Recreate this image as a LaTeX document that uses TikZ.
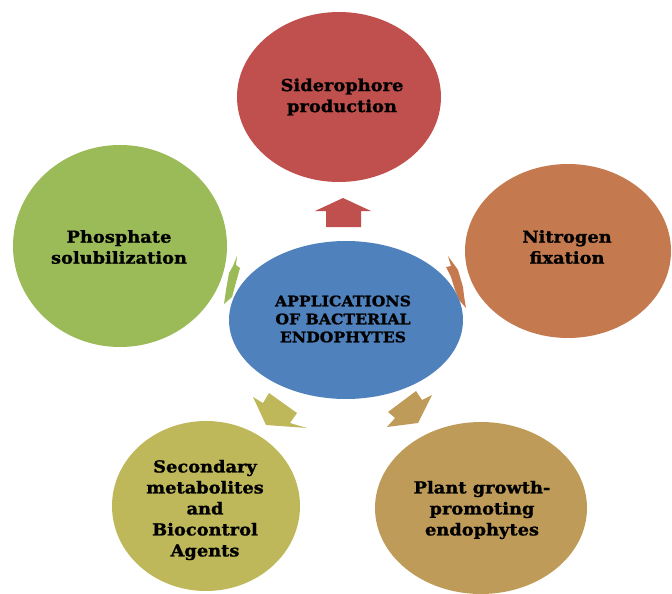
\documentclass[tikz,border=0pt]{standalone}
\usepackage{fontspec}
\setmainfont{DejaVu Serif}[BoldFeatures={FakeStretch=1.08,FakeBold=1.2}]
\usetikzlibrary{shapes.geometric}
\definecolor{cblue}{HTML}{4F81BD}
\definecolor{cred}{HTML}{C0504D}
\definecolor{cgreen}{HTML}{9BBB59}
\definecolor{corange}{HTML}{C47A4E}
\definecolor{colive}{HTML}{BEB85A}
\definecolor{cgold}{HTML}{BE9B58}
\tikzset{
  bubble/.style={ellipse, inner sep=0pt},
  bubbletext/.style={align=center, text=black, inner sep=0pt,
    font=\bfseries\fontsize{16.5}{21}\selectfont},
  hubtext/.style={bubbletext, font=\bfseries\fontsize{14.5}{18}\selectfont},
  blockarrow/.style={draw=none}
}
\begin{document}
\begin{tikzpicture}[x=1pt,y=-1pt]
\useasboundingbox (0,0) rectangle (672,594);
% block arrows (behind the bubbles)
\fill[cred, blockarrow] (343,198) -- (371,211) -- (361,211) -- (361,227) -- (326,227) -- (326,211) -- (315,211) -- cycle;
\fill[cgreen, blockarrow] (237,256) -- (236,265) -- (240,268) -- (232,297) -- (224,304) -- (226,290) -- (229,273) -- (233,266) -- cycle;
\fill[corange, blockarrow] (448,256) -- (458,270) -- (463,287) -- (464,296) -- (466,308) -- (459,300) -- (455,290) -- (451,277) -- (446,267) -- (451,266) -- cycle;
\fill[colive, blockarrow] (253,397) -- (263,403) -- (269,393) -- (297,413) -- (290,423) -- (307,428) -- (266,425) -- cycle;
\fill[cgold, blockarrow] (432,395) -- (422,400) -- (416,391) -- (388,412) -- (395,418) -- (387,427) -- (418,423) -- cycle;
% bubbles
\node[bubble, fill=cred, minimum width=204pt, minimum height=170pt] (sid) at (339,97) {};
\node[bubble, fill=cgreen, minimum width=214pt, minimum height=202pt] (pho) at (120,246) {};
\node[bubble, fill=corange, minimum width=206pt, minimum height=174pt] (nit) at (568,251) {};
\node[bubble, fill=colive, minimum width=188pt, minimum height=170pt] (sec) at (206,506) {};
\node[bubble, fill=cgold, minimum width=212pt, minimum height=172pt] (pgp) at (481,508) {};
\node[bubble, fill=cblue, minimum width=234pt, minimum height=158pt] (hub) at (346,320) {};
% texts
\node[bubbletext] (sidt) at (342,97) {Siderophore\\production};
\node[bubbletext] (phot) at (119,247) {Phosphate\\solubilization};
\node[bubbletext] (nitt) at (567,247) {Nitrogen\\fixation};
\node[bubbletext] (sect) at (205,510) {Secondary\\metabolites\\and\\Biocontrol\\Agents};
\node[bubbletext] (pgpt) at (482,510) {Plant growth-\\promoting\\endophytes};
\node[hubtext] (hubt) at (343,319) {APPLICATIONS\\OF BACTERIAL\\ENDOPHYTES};
\end{tikzpicture}
\end{document}
